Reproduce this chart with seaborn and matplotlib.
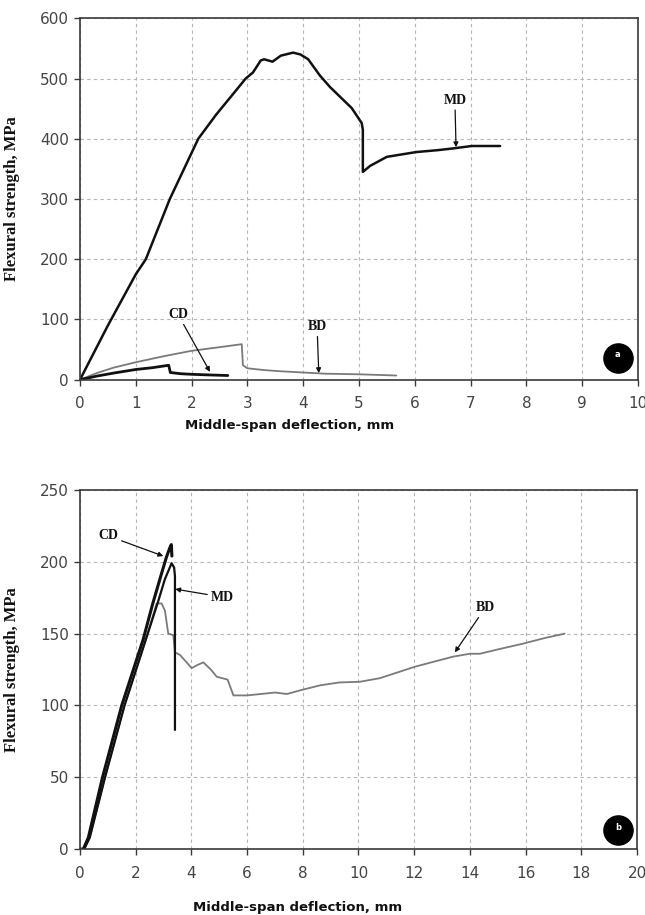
import matplotlib
matplotlib.use("Agg")
import matplotlib.pyplot as plt
import seaborn as sns
import pandas as pd

# ---------------- Data: panel (a) ----------------
a_md_x = [0, 0.5, 1.0, 1.18, 1.61, 2.12, 2.44, 2.75, 2.97, 3.1, 3.24, 3.3, 3.45, 3.6, 3.82, 3.95, 4.09,
          4.3, 4.48, 4.87, 5.05, 5.07, 5.07, 5.2, 5.5, 6.03, 6.4, 6.69, 7.02, 7.53]
a_md_y = [0, 90, 175, 200, 300, 400, 440, 475, 500, 510, 530, 532, 528, 538, 543, 540, 532,
          505, 486, 451, 426, 415, 345, 355, 370, 378, 381, 384, 388, 388]
a_bd_x = [0, 0.3, 0.6, 1.0, 1.5, 2.0, 2.5, 2.9, 2.92, 3.0, 3.3, 3.6, 4.0, 4.4, 5.0, 5.67]
a_bd_y = [0, 11, 20, 29, 39, 48, 54, 59, 24, 19, 16, 14, 12, 10, 9, 7]
a_cd_x = [0, 0.3, 0.6, 1.0, 1.3, 1.59, 1.62, 1.8, 2.0, 2.3, 2.65]
a_cd_y = [0, 6, 11, 17, 20, 24, 12, 10, 9, 8, 7]

# ---------------- Data: panel (b) ----------------
b_cd_x = [0, 0.12, 0.3, 0.81, 1.5, 2.27, 2.6, 2.9, 3.1, 3.23, 3.28, 3.3]
b_cd_y = [0, 0, 8, 50, 100, 146, 170, 190, 203, 210, 212, 204]
b_md_x = [0, 0.15, 0.35, 0.9, 1.6, 2.4, 2.8, 3.05, 3.29, 3.38, 3.41, 3.41]
b_md_y = [0, 0, 8, 50, 100, 148, 172, 188, 199, 196, 190, 83]
b_bd_x = [0, 0.15, 0.35, 0.9, 1.6, 2.4, 2.75, 2.93, 3.05, 3.11, 3.17, 3.35, 3.41, 3.6, 4.01, 4.2,
          4.43, 4.7, 4.91, 5.3, 5.51, 6.0, 7.0, 7.43, 8.0, 8.62, 9.3, 10.05, 10.77, 12.03, 13.4,
          14.0, 14.36, 15.0, 15.9, 16.7, 17.4]
b_bd_y = [0, 0, 8, 50, 100, 148, 171, 171, 166, 158, 150, 149, 137, 135, 126, 128, 130, 125, 120,
          118, 107, 107, 109, 108, 111, 114, 116, 116.5, 119, 127, 134, 136, 136, 139, 143, 147, 150]

a_xticks = list(range(0, 11))
a_yticks = [0, 100, 200, 300, 400, 500, 600]
b_xticks = list(range(0, 21, 2))
b_yticks = [0, 50, 100, 150, 200, 250]

sns.set_theme(style="white")
plt.rcParams['font.family'] = ['DejaVu Sans']

fig = plt.figure(figsize=(6.45, 9.15), dpi=100)
ax1 = fig.add_axes([0.124, 0.585, 0.865, 0.395])
ax2 = fig.add_axes([0.124, 0.072, 0.8636, 0.3925])

def draw(ax, x, y, color, lw):
    df = pd.DataFrame({"x": x, "y": y})
    sns.lineplot(data=df, x="x", y="y", ax=ax, color=color, lw=lw, sort=False, estimator=None)

draw(ax1, a_bd_x, a_bd_y, "#7a7a7a", 1.3)
draw(ax1, a_cd_x, a_cd_y, "#111111", 2.0)
draw(ax1, a_md_x, a_md_y, "#111111", 1.8)

draw(ax2, b_bd_x, b_bd_y, "#7a7a7a", 1.3)
draw(ax2, b_md_x, b_md_y, "#111111", 1.6)
draw(ax2, b_cd_x, b_cd_y, "#111111", 2.2)

def style(ax, xt, yt, xlim, ylim):
    ax.set_xlim(*xlim)
    ax.set_ylim(*ylim)
    ax.set_xticks(xt)
    ax.set_yticks(yt)
    ax.grid(True, linestyle=(0, (3, 3)), color="#b5b5b5", lw=0.8)
    for s in ax.spines.values():
        s.set_color("#3a3a3a")
        s.set_linewidth(1.2)
    ax.tick_params(axis="both", which="major", direction="out", length=4, width=1,
                   color="#3a3a3a", labelsize=11, labelcolor="#444444")
    ax.tick_params(axis="x", pad=8)
    ax.tick_params(axis="y", pad=4)
    ax.tick_params(left=True, bottom=True)
    ax.set_ylabel("Flexural strength, MPa", family="Liberation Serif", fontweight="bold",
                  fontsize=12, color="#111111")
    ax.set_xlabel("Middle-span deflection, mm", fontweight="bold", fontsize=9.5,
                  color="#111111")

style(ax1, a_xticks, a_yticks, (0, 10), (0, 600))
style(ax2, b_xticks, b_yticks, (0, 20), (0, 250))
ax1.xaxis.set_label_coords(0.375, -0.11)
ax2.xaxis.set_label_coords(0.39, -0.145)
ax1.yaxis.set_label_coords(-0.108, 0.5)
ax2.yaxis.set_label_coords(-0.108, 0.5)

lab = dict(family="Liberation Serif", fontweight="bold", fontsize=10, color="#111111")
arr = dict(arrowstyle="-|>", color="#111111", lw=0.9, mutation_scale=7, shrinkA=0, shrinkB=0)

ax1.annotate("CD", xy=(2.33, 13), xytext=(1.76, 108), ha="center", va="center",
             arrowprops=arr, **lab)
ax1.annotate("BD", xy=(4.28, 11), xytext=(4.25, 88), ha="center", va="center",
             arrowprops=arr, **lab)
ax1.annotate("MD", xy=(6.74, 386), xytext=(6.72, 464), ha="center", va="center",
             arrowprops=arr, **lab)

ax2.annotate("CD", xy=(2.99, 204), xytext=(1.02, 218), ha="center", va="center",
             arrowprops=arr, **lab)
ax2.annotate("MD", xy=(3.42, 181), xytext=(5.1, 175.5), ha="center", va="center",
             arrowprops=arr, **lab)
ax2.annotate("BD", xy=(13.46, 137), xytext=(14.55, 168), ha="center", va="center",
             arrowprops=arr, **lab)

for ax, txt, pos in [(ax1, "a", (0.964, 0.061)), (ax2, "b", (0.966, 0.053))]:
    ax.plot([pos[0]], [pos[1]], marker="o", markersize=21, color="black",
            transform=ax.transAxes, clip_on=False)
    ax.text(pos[0], pos[1] + 0.008, txt, transform=ax.transAxes, ha="center", va="center",
            color="white", fontsize=6, fontweight="bold")

fig.savefig("out.png", dpi=100)
